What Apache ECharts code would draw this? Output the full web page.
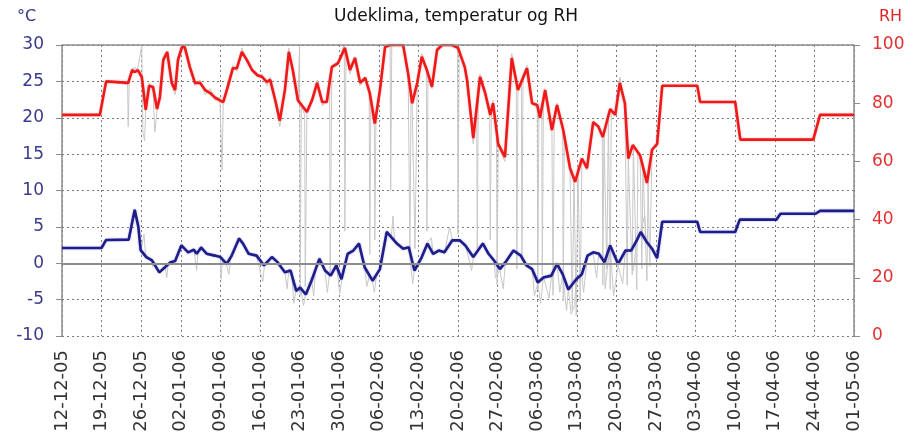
<!DOCTYPE html>
<html>
<head>
<meta charset="utf-8">
<script src="https://cdn.jsdelivr.net/npm/echarts@6/dist/echarts.min.js"></script>
<style>
	html, body { margin: 0; padding: 0; background: #fff; }
	#chart { width: 912px; height: 441px; }
</style>
</head>
<body>
<div id="chart"></div>
<script>
// x = days since 12-12-05
var dateLabels = ['12-12-05', '19-12-05', '26-12-05', '02-01-06', '09-01-06', '16-01-06', '23-01-06',
	'30-01-06', '06-02-06', '13-02-06', '20-02-06', '27-02-06', '06-03-06', '13-03-06', '20-03-06',
	'27-03-06', '03-04-06', '10-04-06', '17-04-06', '24-04-06', '01-05-06'];

// smoothed RH (red)
var rhLine = [
	[0, 76], [6.7, 76], [7.8, 87.5], [11.7, 87], [12.4, 91.4], [12.9, 90.7], [13.4, 91.4], [14.1, 89],
	[14.8, 77.7], [15.4, 86], [16.1, 85.6], [16.8, 78], [17.3, 82], [17.9, 94.8], [18.6, 97.6], [19.4, 87],
	[20.0, 84.5], [20.5, 94.8], [21.2, 99.3], [21.7, 99.3], [22.6, 92.4], [23.5, 87], [24.4, 87], [25.3, 84.5],
	[26.2, 83.5], [27.0, 82], [27.9, 81], [28.5, 80.4], [29.3, 85.6], [30.2, 92], [30.9, 92], [31.8, 97.6],
	[32.7, 94.8], [33.6, 91.4], [34.5, 89.7], [35.4, 89], [36.2, 87.3], [36.8, 88], [37.7, 81], [38.5, 74],
	[39.4, 84.5], [40.1, 97.6], [40.8, 91.4], [41.7, 81], [43.3, 77], [44.2, 81], [45.1, 87], [46.0, 80.4],
	[46.8, 80.4], [47.7, 92.4], [48.8, 93.8], [50.0, 99], [50.9, 91.4], [51.8, 95.5], [52.7, 87], [53.6, 88.7],
	[54.4, 83.5], [55.3, 73], [56.2, 84.5], [57.1, 99.3], [58.0, 100], [60.3, 100], [61.2, 90], [61.9, 80],
	[62.8, 87], [63.6, 96], [64.5, 91.4], [65.4, 85.6], [66.3, 98.3], [67.2, 100], [68.9, 100], [70.0, 99],
	[71.2, 92.4], [71.6, 88], [72.7, 68], [73.9, 89], [74.8, 83.5], [75.7, 76], [76.2, 80], [77.1, 66],
	[78.3, 61.5], [79.5, 95.5], [80.6, 84.5], [82.2, 92], [83.1, 80], [84.0, 79.4], [84.5, 75], [85.4, 84.5],
	[86.6, 70.8], [87.5, 79.4], [88.6, 70.8], [89.8, 57.7], [90.7, 53], [91.9, 61], [92.8, 57.7], [93.9, 73.5],
	[94.8, 72], [95.6, 68.4], [96.9, 78], [97.8, 76], [98.6, 87], [99.5, 80], [100.1, 61], [100.9, 65.6],
	[102.2, 62], [103.4, 52.6], [104.3, 64], [105.2, 66], [106.1, 86], [112.3, 86], [112.8, 80.4], [119.0, 80.4],
	[119.9, 67.5], [132.8, 67.5], [134.0, 76], [140, 76]
];

// smoothed temperature (blue)
var tempLine = [
	[0, 2.1], [7, 2.1], [7.8, 3.2], [11.8, 3.25], [12.85, 7.35], [13.5, 5], [13.9, 1.8], [14.9, 0.85],
	[15.9, 0.4], [17.2, -1.25], [18.2, -0.55], [19.2, 0.15], [20, 0.3], [21.1, 2.45], [22.3, 1.5], [23.3, 1.85],
	[23.8, 1.3], [24.6, 2.15], [25.6, 1.3], [27, 1.05], [28, 0.85], [29.1, -0.1], [30, 1.05], [31.3, 3.4],
	[32, 2.7], [33, 1.3], [34.4, 1.05], [35.7, -0.3], [37.1, 0.85], [38.1, 0.15], [39.4, -1.25], [40.4, -1],
	[41.4, -3.8], [42.1, -3.35], [43.1, -4.3], [44.1, -2.4], [45.5, 0.6], [46.5, -1], [47.5, -1.7], [48.5, -0.3],
	[49.4, -2.2], [50.5, 1.3], [51.5, 1.75], [52.5, 2.7], [53.5, -0.55], [54.9, -2.4], [56.2, -0.8], [57.4, 4.3],
	[58.2, 3.6], [59.2, 2.7], [60.3, 2], [61.3, 2.2], [62.3, -1], [63.6, 0.85], [64.6, 2.7], [65.6, 1.3],
	[66.6, 1.75], [67.6, 1.5], [69, 3.15], [70.3, 3.15], [71.3, 2.45], [72.7, 0.85], [74.4, 2.7], [75.4, 1.3],
	[76.4, 0.35], [77.4, -0.8], [78.4, 0.15], [79.8, 1.75], [81.1, 1.05], [82.1, -0.3], [83.1, -0.8], [84.1, -2.65],
	[85.1, -1.95], [86.5, -1.7], [87.5, -0.1], [88.5, -1.5], [89.5, -3.6], [90.9, -2.2], [91.9, -1.5], [92.9, 1.05],
	[93.9, 1.5], [94.9, 1.3], [95.9, 0.15], [96.9, 2.45], [98.3, -0.1], [99.6, 1.75], [100.6, 1.75], [101.6, 3.15],
	[102.3, 4.3], [103.3, 3], [104.3, 2], [105.2, 0.7], [106.1, 5.7], [112.3, 5.7], [112.8, 4.3], [119.0, 4.3],
	[119.8, 6.0], [126.3, 6.0], [127, 6.8], [133.2, 6.8], [134, 7.2], [140, 7.2]
];

// raw RH measurements (grey)
var rhRaw = [
	[7.9, 87.5], [11.6, 86.5], [11.7, 72], [11.9, 88], [12.4, 92], [13.4, 92], [14.1, 100], [14.3, 70], [14.6, 67],
	[14.8, 78], [15.4, 87], [16.1, 84], [16.4, 70], [16.8, 77], [17.3, 83], [17.9, 96], [18.6, 98], [19.4, 86],
	[20.0, 83], [20.5, 96], [21.2, 100], [21.7, 98], [22.6, 93], [23.5, 86], [24.4, 88], [25.3, 83], [26.2, 85],
	[27.0, 81], [27.9, 82], [28.3, 57], [28.5, 80], [29.3, 87], [30.2, 93], [30.9, 91], [31.8, 99], [32.7, 94],
	[33.6, 92], [34.5, 89], [35.4, 90], [36.2, 86], [36.8, 89], [37.7, 80], [38.5, 72], [39.4, 85], [40.1, 99],
	[40.8, 90], [41.7, 80], [42.0, 100], [42.1, 14], [42.3, 79], [42.9, 76], [43.0, 17], [43.3, 78], [44.2, 82],
	[45.1, 88], [46.0, 79], [46.8, 81], [47.3, 90], [47.4, 21], [47.7, 93], [48.8, 94], [49.9, 100], [50.0, 36],
	[50.2, 98], [50.9, 90], [51.8, 96], [52.7, 86], [53.6, 89], [54.3, 84], [54.4, 28], [54.6, 80], [55.2, 72],
	[55.3, 33], [55.5, 76], [56.2, 85], [57.1, 100], [58.0, 100], [58.1, 50], [58.3, 100], [60.3, 100], [61.2, 89],
	[61.5, 28], [61.7, 82], [61.9, 79], [62.4, 30], [62.8, 88], [63.6, 97], [64.4, 92], [64.5, 36], [64.7, 90],
	[65.4, 85], [66.3, 99], [67.2, 100], [68.9, 100], [69.9, 100], [70.0, 35], [70.2, 98], [71.2, 92], [71.6, 87],
	[72.7, 66], [73.3, 80], [73.4, 30], [73.6, 88], [73.9, 90], [74.8, 84], [75.6, 77], [75.7, 33], [75.9, 78],
	[76.2, 81], [76.8, 70], [76.9, 17.5], [77.1, 65], [78.3, 60], [79.5, 97], [80.3, 88], [80.4, 23], [80.6, 85],
	[81.2, 88], [81.3, 26], [81.5, 90], [82.2, 93], [83.1, 80], [84.0, 78], [84.1, 16], [84.3, 76], [84.8, 80],
	[84.9, 21], [85.1, 82], [85.4, 85], [86.6, 70], [86.8, 14], [87.0, 74], [87.5, 80], [88.5, 72], [88.6, 12],
	[88.8, 68], [89.8, 57], [90.2, 9], [90.5, 55], [90.9, 7], [91.2, 58], [91.6, 12], [91.9, 61], [92.8, 57],
	[93.9, 74], [94.8, 72], [95.5, 69], [95.6, 17.5], [95.8, 70], [96.3, 23], [96.6, 76], [96.9, 16], [97.1, 78],
	[97.8, 76], [98.6, 89], [99.5, 80], [99.9, 17.5], [100.1, 61], [100.8, 21], [101.0, 66], [101.6, 16],
	[101.8, 63], [102.2, 62], [102.5, 23], [102.7, 58], [103.4, 19], [103.6, 53], [103.9, 24], [104.3, 64],
	[105.2, 66], [106.0, 85]
];

// raw temperature measurements (grey)
var tempRaw = [
	[7.9, 3.2], [11.7, 3.3], [12.8, 7.0], [13.4, 5.5], [14.0, 2.0], [14.5, 4.0], [14.8, 0.8], [15.9, 0.6],
	[16.0, -0.5], [16.2, 0.2], [17.2, -1.4], [18.3, -0.6], [18.5, -2.0], [18.8, 0], [20.0, 0.4], [21.1, 2.7],
	[22.3, 1.3], [23.3, 2.0], [23.8, -1.0], [24.0, 1.2], [24.6, 2.4], [25.6, 1.1], [27.0, 1.2], [28.0, 0.6],
	[28.1, -2.2], [28.4, 0.5], [29.1, -0.3], [29.5, -1.5], [29.8, 0.6], [31.3, 3.6], [32.0, 2.5], [33.0, 1.5],
	[34.4, 0.9], [35.5, -2.5], [35.8, -0.2], [37.1, 1.0], [38.1, 0], [39.4, -1.4], [39.8, -3.5], [40.1, -0.8],
	[40.6, -1.4], [41.0, -5.5], [41.4, -3.6], [42.1, -3.1], [42.7, -5.8], [43.1, -4.1], [44.1, -2.2], [44.5, -4.5],
	[44.8, -1.0], [45.5, 0.8], [46.5, -1.2], [46.9, -4.0], [47.3, -1.5], [48.5, -0.1], [49.1, -4.2], [49.5, -2.0],
	[50.5, 1.5], [51.5, 1.6], [52.5, 2.9], [53.5, -0.7], [53.9, -3.2], [54.3, -1.8], [54.9, -2.6], [55.2, -4.0],
	[55.6, -1.6], [56.2, -0.6], [57.4, 4.5], [58.2, 3.4], [58.5, 6.5], [58.8, 3.0], [59.2, 2.5], [60.3, 2.2],
	[61.3, 2.0], [62.0, -2.8], [62.3, -0.8], [63.6, 1.0], [64.6, 2.9], [65.3, 3.5], [65.6, 1.1], [66.6, 1.9],
	[67.6, 1.3], [68.5, 5.0], [69.0, 3.3], [70.3, 3.0], [71.3, 2.6], [72.4, -1.0], [72.7, 0.7], [74.4, 2.9],
	[75.4, 1.1], [76.4, 0.5], [76.6, -2.0], [77.4, -1.0], [78.0, -3.5], [78.4, 0.3], [79.8, 1.9], [81.1, 0.9],
	[82.1, -0.5], [83.1, -0.6], [83.5, -4.5], [84.1, -2.8], [84.6, -5.5], [85.1, -1.8], [86.1, -4.8], [86.5, -1.9],
	[87.5, 0.1], [88.0, -4.0], [88.5, -1.7], [89.2, -6.5], [89.5, -3.4], [90.0, -7.0], [90.6, -5.8], [90.9, -2.0],
	[91.9, -1.7], [92.2, -4.0], [92.9, 1.2], [93.9, 1.3], [94.5, -2.0], [94.9, 1.5], [95.9, 0], [96.0, -3.5],
	[96.9, 2.6], [97.5, -4.5], [98.3, -0.3], [99.1, -2.8], [99.6, 1.9], [100.6, 1.6], [101.0, -1.0], [101.6, 3.3],
	[102.3, 4.5], [103.0, 6.5], [103.3, 2.8], [104.3, 2.2], [105.2, 0.5], [106.0, 5.5]
];

var font = 'DejaVu Sans, Verdana, sans-serif';
var gridDash = { color: '#7a7a7a', type: [2, 3], width: 1 };

var option = {
	animation: false,
	backgroundColor: '#fff',
	title: [{
		text: 'Udeklima, temperatur og RH',
		left: 'center',
		top: 3,
		textStyle: { fontFamily: font, fontSize: 17, fontWeight: 'normal', color: '#111' }
	}, {
		text: '°C',
		left: 12,
		top: 4,
		textStyle: { fontFamily: font, fontSize: 16, fontWeight: 'normal', color: '#34348a' }
	}, {
		text: 'RH',
		left: 874,
		top: 4,
		textStyle: { fontFamily: font, fontSize: 16, fontWeight: 'normal', color: '#e02525' }
	}],
	grid: { left: 62, right: 58, top: 45, bottom: 105 },
	xAxis: {
		type: 'value',
		min: 0,
		max: 140,
		interval: 7,
		axisLine: { lineStyle: { color: '#8c8c8c', width: 1.5 } },
		axisTick: { show: false },
		splitLine: { show: true, lineStyle: gridDash },
		axisLabel: {
			rotate: 90,
			margin: 14,
			fontFamily: font,
			fontSize: 18,
			color: '#333',
			formatter: function (v) { return dateLabels[Math.round(v / 7)]; }
		}
	},
	yAxis: [{
		type: 'value',
		min: -10,
		max: 30,
		interval: 5,
		axisLine: { show: true, lineStyle: { color: '#8c8c8c', width: 1.5 } },
		axisTick: { show: true, length: 6, lineStyle: { color: '#8c8c8c' } },
		splitLine: { show: true, lineStyle: gridDash },
		axisLabel: { margin: 18, fontFamily: font, fontSize: 17, color: '#3a3a8c' }
	}, {
		type: 'value',
		min: 0,
		max: 100,
		interval: 20,
		position: 'right',
		axisLine: { show: true, lineStyle: { color: '#8c8c8c', width: 1.5 } },
		axisTick: { show: true, length: 6, inside: false, lineStyle: { color: '#8c8c8c' } },
		splitLine: { show: false },
		axisLabel: { margin: 18, fontFamily: font, fontSize: 17, color: '#e43030' }
	}],
	series: [{
		name: 'RH raw',
		type: 'line',
		yAxisIndex: 1,
		data: rhRaw,
		symbol: 'none',
		lineStyle: { color: '#c8c8c8', width: 1 },
		z: 1
	}, {
		name: 'Temp raw',
		type: 'line',
		yAxisIndex: 0,
		data: tempRaw,
		symbol: 'none',
		lineStyle: { color: '#c8c8c8', width: 1 },
		z: 1
	}, {
		name: 'RH',
		type: 'line',
		yAxisIndex: 1,
		data: rhLine,
		symbol: 'none',
		lineStyle: { color: '#ee1a1a', width: 2.6, shadowColor: 'rgba(255,120,120,0.6)', shadowBlur: 2 },
		z: 3
	}, {
		name: 'Temperatur',
		type: 'line',
		yAxisIndex: 0,
		data: tempLine,
		symbol: 'none',
		lineStyle: { color: '#1e1e86', width: 2.6, shadowColor: 'rgba(110,110,255,0.6)', shadowBlur: 2 },
		markLine: {
			silent: true,
			symbol: 'none',
			label: { show: false },
			lineStyle: { color: '#8c8c8c', type: 'solid', width: 2 },
			data: [{ yAxis: 0 }]
		},
		z: 3
	}, {
		// top border of the plot
		type: 'line',
		yAxisIndex: 0,
		data: [],
		markLine: {
			silent: true,
			symbol: 'none',
			label: { show: false },
			lineStyle: { color: '#8c8c8c', type: 'solid', width: 1.5 },
			data: [{ yAxis: 30 }]
		}
	}]
};

var myChart = echarts.init(document.getElementById('chart'));
myChart.setOption(option);
</script>
</body>
</html>
